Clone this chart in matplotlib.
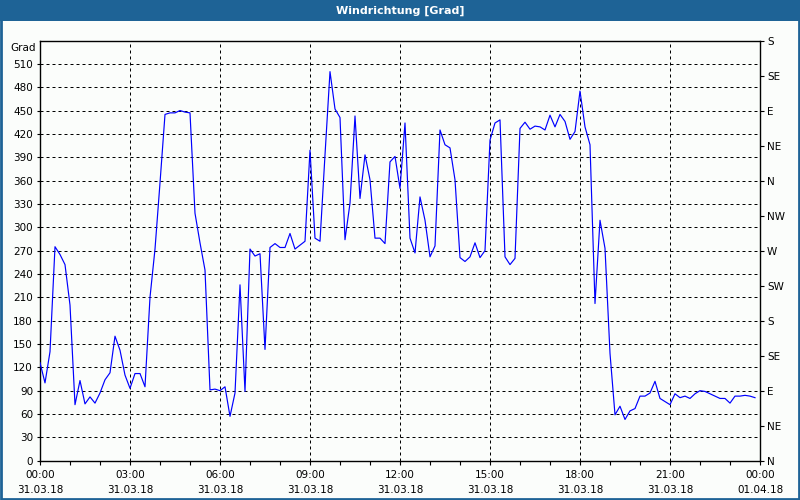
import numpy as np
import matplotlib
matplotlib.use("Agg")
import matplotlib.pyplot as plt
from matplotlib.patches import Rectangle

# ---- data: wind direction every 10 minutes, 31.03.18 00:00 .. 23:50 ----
direction = [
    126, 100, 140, 275, 265, 252,   # 00
    200, 72, 103, 73, 82, 74,       # 01
    87, 104, 113, 160, 142, 110,    # 02
    93, 112, 112, 95, 210, 272,     # 03
    357, 445, 447, 447, 450, 448,   # 04
    447, 318, 280, 245, 91, 92,     # 05
    90, 95, 57, 87, 226, 89,        # 06
    272, 263, 266, 143, 274, 279,   # 07
    274, 274, 292, 272, 277, 282,   # 08
    399, 286, 282, 393, 500, 452,   # 09
    441, 284, 331, 443, 337, 393,   # 10
    361, 286, 286, 279, 384, 391,   # 11
    350, 434, 286, 267, 339, 309,   # 12
    262, 276, 425, 406, 402, 361,   # 13
    261, 256, 262, 280, 261, 270,   # 14
    412, 434, 438, 262, 252, 260,   # 15
    427, 435, 426, 430, 429, 425,   # 16
    444, 429, 445, 436, 413, 423,   # 17
    475, 429, 406, 202, 309, 273,   # 18
    138, 59, 70, 53, 64, 67,        # 19
    83, 83, 87, 102, 80, 76,        # 20
    72, 86, 81, 83, 80, 86,         # 21
    90, 89, 86, 83, 80, 80,         # 22
    74, 83, 83, 84, 83, 81,         # 23
]
step_minutes = 10
hours = np.arange(len(direction)) * step_minutes / 60.0

x_tick_hours = [0, 3, 6, 9, 12, 15, 18, 21, 24]
x_tick_labels = ["00:00\n31.03.18", "03:00\n31.03.18", "06:00\n31.03.18",
                 "09:00\n31.03.18", "12:00\n31.03.18", "15:00\n31.03.18",
                 "18:00\n31.03.18", "21:00\n31.03.18", "00:00\n01.04.18"]
y_ticks = list(range(0, 511, 30))
compass_ticks = list(range(0, 541, 45))
compass_labels = ["N", "NE", "E", "SE", "S", "SW", "W", "NW",
                  "N", "NE", "E", "SE", "S"]
title = "Windrichtung [Grad]"
unit = "Grad"

# ---- style ----
bg = "#FBFDFB"
bar_blue = "#1E6396"
plt.rcParams["font.family"] = ["DejaVu Sans"]
fs = 7.5

fig = plt.figure(figsize=(8, 5), dpi=100, facecolor=bg)
ax = fig.add_axes([40 / 800, (500 - 460.7) / 500, 720 / 800, 420.2 / 500])
ax.set_facecolor(bg)

ax.plot(hours, direction, color="#0000FF", lw=0.85, zorder=3)

ax.set_xlim(0, 24)
ax.set_ylim(0, 540)

# grid lines (dashed black)
dash = (0, (3.0, 3.0))
for h in x_tick_hours[1:-1]:
    ax.axvline(h, color="black", lw=0.72, linestyle=dash, zorder=1)
for v in y_ticks[1:]:
    ax.axhline(v, color="black", lw=0.72, linestyle=dash, zorder=1)

ax.set_xticks(x_tick_hours)
ax.set_xticklabels(x_tick_labels, fontsize=fs)
for t in ax.get_xticklabels():
    t.set_linespacing(1.55)
ax.set_xticks(np.arange(0, 25, 1), minor=True)
ax.tick_params(axis="x", which="both", direction="out", length=3, width=0.8,
               pad=4, colors="black")
ax.set_yticks(y_ticks)
ax.set_yticklabels([str(v) for v in y_ticks], fontsize=fs)
ax.tick_params(axis="y", direction="out", length=2, width=0.8, pad=3)

for s in ax.spines.values():
    s.set_color("black")
    s.set_linewidth(1.0)

ax.text(-0.006, 531, unit, transform=ax.get_yaxis_transform(),
        ha="right", va="center", fontsize=fs)

ax2 = ax.twinx()
ax2.set_ylim(0, 540)
ax2.set_yticks(compass_ticks)
ax2.set_yticklabels(compass_labels, fontsize=fs)
ax2.tick_params(axis="y", direction="out", length=3, width=0.8, pad=2)
for s in ax2.spines.values():
    s.set_visible(False)

# title bar & window border
fig.patches.append(Rectangle((0, 1 - 20.5 / 500), 1, 20.5 / 500,
                             transform=fig.transFigure, facecolor=bar_blue,
                             edgecolor="none", zorder=0))
fig.patches.append(Rectangle((0.001, 0.002), 0.998, 0.996,
                             transform=fig.transFigure, fill=False,
                             edgecolor=bar_blue, lw=2.0, zorder=5))
fig.text(0.5, 1 - 10.5 / 500, title, color="white", fontsize=8,
         fontweight="bold", ha="center", va="center")

fig.savefig("out.png", dpi=100, facecolor=bg)
